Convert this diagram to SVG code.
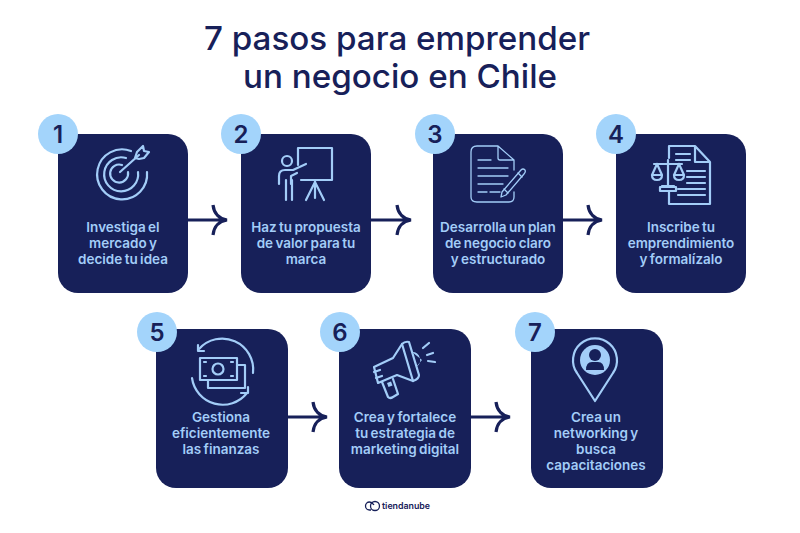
<svg xmlns="http://www.w3.org/2000/svg" width="800" height="533" viewBox="0 0 800 533">
<style>
.card{fill:#172059}
.badge{fill:#a3d4fb}
.num{font:600 24px Inter,"Liberation Sans",sans-serif;fill:#172059;text-anchor:middle}
.lbl{font:600 13.500px Inter,"Liberation Sans",sans-serif;word-spacing:-1px;fill:#a3cdf8;text-anchor:middle}
.title{font:500 33.200px Inter,"Liberation Sans",sans-serif;fill:#172059;text-anchor:middle}
.ic{fill:none;stroke:#a3cdf8;stroke-width:2.200;stroke-linecap:round;stroke-linejoin:round}
.thin{stroke-width:1.300}
.fl{fill:#a3cdf8;stroke:none}
.arr{fill:none;stroke:#172059;stroke-width:3.200;stroke-linecap:butt}
</style>
<rect width="800" height="533" fill="#fff"/>
<g id="title"><text class="title" x="397" y="50">7 pasos para emprender</text><text class="title" x="400" y="88">un negocio en Chile</text></g>
<g id="connectors">
<path class="arr" d="M188 220H227M213 205C214 214 220 219 227 220C220 221 214 226 213 235"/>
<path class="arr" d="M371 220H411M397 205C398 214 404 219 411 220C404 221 398 226 397 235"/>
<path class="arr" d="M563 220H602M588 205C589 214 595 219 602 220C595 221 589 226 588 235"/>
<path class="arr" d="M288 417H327M313 402C314 411 320 416 327 417C320 418 314 423 313 432"/>
<path class="arr" d="M471 417H510M496 402C497 411 503 416 510 417C503 418 497 423 496 432"/>
</g>
<g id="node1"><rect class="card" x="58" y="134" width="130" height="159" rx="20"/><circle class="badge" cx="58" cy="134" r="20"/><text class="num" x="58" y="143">1</text>
<g class="ic"><path d="M131 151A25 25 0 1 0 147 172"/><path d="M126 158A17 17 0 1 0 138 172"/><path d="M122 165A9 9 0 1 0 128 172"/><path d="M120 172L139 155"/><path d="M135 158L137 152L143 146L144 151L149 152L144 158L139 159Z"/></g>
<text class="lbl" x="123" y="232">Investiga el</text><text class="lbl" x="123" y="248">mercado y</text><text class="lbl" x="123" y="264">decide tu idea</text></g>
<g id="node2"><rect class="card" x="241" y="134" width="130" height="159" rx="20"/><circle class="badge" cx="241" cy="134" r="20"/><text class="num" x="241" y="143">2</text>
<g class="ic"><path d="M298 165V148H332V180H301"/><circle cx="287" cy="161" r="5"/><path d="M279 184V176Q279 170 285 170H293L306 164"/><path d="M297 173L291 176V184"/><path d="M286 180V200M292 180V200"/><path d="M315 180V198M315 182L306 200M315 182L324 200"/></g>
<text class="lbl" x="306" y="232">Haz tu propuesta</text><text class="lbl" x="306" y="248">de valor para tu</text><text class="lbl" x="306" y="264">marca</text></g>
<g id="node3"><rect class="card" x="433" y="134" width="130" height="159" rx="20"/><circle class="badge" cx="435" cy="134" r="20"/><text class="num" x="435" y="143">3</text>
<g class="ic thin"><path d="M498 146H477Q471 146 471 152V197Q471 202 477 202H509Q514 202 514 197V192M514 170V160L498 146V158Q498 160 500 160H514"/><path d="M478 160H491M478 168H508M478 176H508M478 184H503M478 192H487M490 192H500"/><path d="M502 192L521 170Q523 168 525 170Q526 172 524 174L506 195L501 197Z"/><path d="M518 173L522 177M504 189L508 193"/></g>
<text class="lbl" x="498" y="232">Desarrolla un plan</text><text class="lbl" x="498" y="248">de negocio claro</text><text class="lbl" x="498" y="264">y estructurado</text></g>
<g id="node4"><rect class="card" x="616" y="134" width="130" height="159" rx="20"/><circle class="badge" cx="616" cy="134" r="20"/><text class="num" x="616" y="143">4</text>
<g class="ic"><path d="M669 158V146H695L710 162V204H669V192M695 146V162H710"/><path d="M676 154H690M676 160H690M687 171H705M687 177H705M687 183H705M678 189H705M678 195H705"/><path d="M668 160V186M654 164H682M662 186H674M660 191H676V187H660Z"/><path d="M657 164L652 175Q652 180 657 180Q662 180 662 175L657 164M679 164L674 175Q674 180 679 180Q684 180 684 175L679 164M652 175H662M674 175H684"/></g>
<text class="lbl" x="681" y="232">Inscribe tu</text><text class="lbl" x="681" y="248">emprendimiento</text><text class="lbl" x="681" y="264">y formalízalo</text></g>
<g id="node5"><rect class="card" x="156" y="329" width="132" height="159" rx="20"/><circle class="badge" cx="157" cy="332" r="20"/><text class="num" x="157" y="341">5</text>
<g class="ic"><path d="M199 349A31 31 0 0 1 253 373"/><path d="M198 345L198 351L204 351"/><path d="M192 378A31 31 0 0 0 247 393"/><path d="M241 393H248V387"/><rect x="200" y="358" width="37" height="22"/><path d="M237 365H245V388H208V380"/><circle cx="218" cy="369" r="5.500"/><path d="M204 362h2M231 362h2M204 376h2M231 376h2"/></g>
<text class="lbl" x="221" y="422">Gestiona</text><text class="lbl" x="221" y="438">eficientemente</text><text class="lbl" x="221" y="454">las finanzas</text></g>
<g id="node6"><rect class="card" x="339" y="329" width="132" height="159" rx="20"/><circle class="badge" cx="340" cy="332" r="20"/><text class="num" x="340" y="341">6</text>
<g class="ic"><path class="fl" d="M412 352A8 8 0 0 1 416 367L422 360Z"/><path d="M402 344Q405 341 409 342L419 375Q419 379 413 381L402 344"/><path d="M402 344L393 358L374 367L378 383L397 375L413 381"/><path d="M374 372L380 370M376 378L382 376"/><path d="M382 382L388 397Q390 399 393 397L398 394L393 379"/><path class="fl" d="M387 383l4-1.500 1.500 4-4 1.500Z"/><path d="M423 348L429 343M427 355L433 353M428 361L435 362"/></g>
<text class="lbl" x="405" y="422">Crea y fortalece</text><text class="lbl" x="405" y="438">tu estrategia de</text><text class="lbl" x="405" y="454">marketing digital</text></g>
<g id="node7"><rect class="card" x="531" y="329" width="132" height="159" rx="20"/><circle class="badge" cx="535" cy="332" r="20"/><text class="num" x="535" y="341">7</text>
<g class="ic"><path d="M595 401L577 373A22 22 0 1 1 613 373Z"/><circle class="fl" cx="595" cy="360" r="15"/><circle cx="595" cy="355" r="6" fill="#172059" stroke="none"/><path d="M586 370Q586 362 592 362H598Q604 362 604 370Z" fill="#172059" stroke="none"/></g>
<text class="lbl" x="596" y="422">Crea un</text><text class="lbl" x="596" y="438">networking y</text><text class="lbl" x="596" y="454">busca</text><text class="lbl" x="596" y="470">capacitaciones</text></g>
<g id="logo"><path d="M371 510H369.500A4 4 0 0 1 369.500 502Q372 502 374 505" fill="none" stroke="#172059" stroke-width="1.300"/><circle cx="375" cy="506" r="4.500" fill="none" stroke="#172059" stroke-width="1.300"/><text x="382" y="509" font-family="Inter,'Liberation Sans',sans-serif" font-size="8.800" font-weight="600" fill="#172059">tiendanube</text></g>
</svg>
